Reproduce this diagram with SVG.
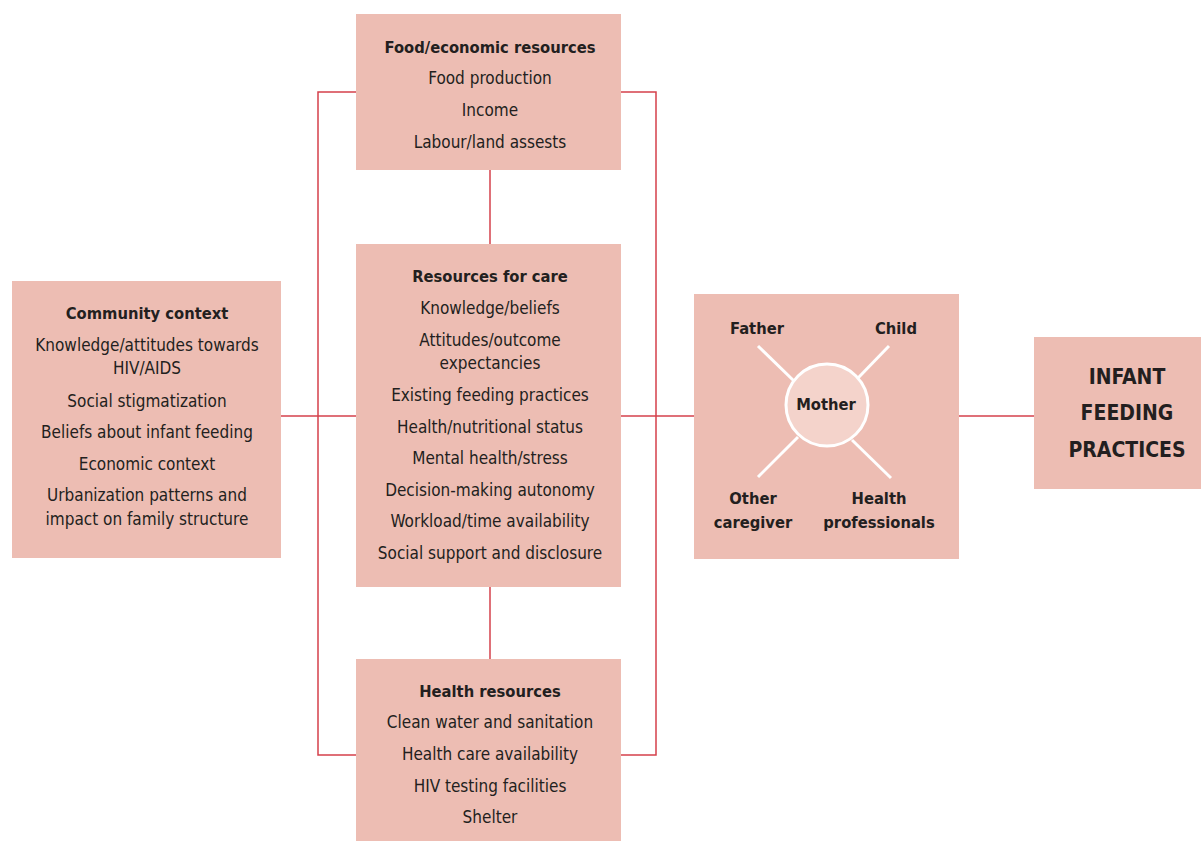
<svg xmlns="http://www.w3.org/2000/svg" width="1201" height="842" viewBox="0 0 1201 842">
<style>
.box{fill:#edbdb3}
.t{font-family:"DejaVu Sans Condensed","Liberation Sans",sans-serif;font-stretch:condensed;font-size:17px;fill:#231f20;text-anchor:middle;dominant-baseline:central}
.b{font-weight:bold;font-size:16.4px}
.big{font-weight:bold;font-size:21px}
.c{stroke:#d5404b;stroke-width:1.5;fill:none}
.w{stroke:#ffffff;stroke-width:3;fill:none}
</style>
<rect width="1201" height="842" fill="#ffffff"/>
<g id="connectors">
<polyline class="c" points="356,92 318,92 318,755 356,755"/>
<polyline class="c" points="621,92 656,92 656,755 621,755"/>
<line class="c" x1="490" y1="170" x2="490" y2="244"/>
<line class="c" x1="490" y1="587" x2="490" y2="659"/>
<line class="c" x1="281" y1="416" x2="356" y2="416"/>
<line class="c" x1="621" y1="416" x2="694" y2="416"/>
<line class="c" x1="959" y1="416" x2="1034" y2="416"/>
</g>
<g id="food">
<rect class="box" x="356" y="14" width="265" height="156"/>
<text class="t b" x="490" y="47">Food/economic resources</text>
<text class="t" x="490" y="78">Food production</text>
<text class="t" x="490" y="110">Income</text>
<text class="t" x="490" y="142">Labour/land assests</text>
</g>
<g id="care">
<rect class="box" x="356" y="244" width="265" height="343"/>
<text class="t b" x="490" y="276">Resources for care</text>
<text class="t" x="490" y="308">Knowledge/beliefs</text>
<text class="t" x="490" y="340">Attitudes/outcome</text>
<text class="t" x="490" y="363">expectancies</text>
<text class="t" x="490" y="395">Existing feeding practices</text>
<text class="t" x="490" y="427">Health/nutritional status</text>
<text class="t" x="490" y="458">Mental health/stress</text>
<text class="t" x="490" y="490">Decision-making autonomy</text>
<text class="t" x="490" y="521">Workload/time availability</text>
<text class="t" x="490" y="553">Social support and disclosure</text>
</g>
<g id="health">
<rect class="box" x="356" y="659" width="265" height="182"/>
<text class="t b" x="490" y="691">Health resources</text>
<text class="t" x="490" y="722">Clean water and sanitation</text>
<text class="t" x="490" y="754">Health care availability</text>
<text class="t" x="490" y="786">HIV testing facilities</text>
<text class="t" x="490" y="817">Shelter</text>
</g>
<g id="community">
<rect class="box" x="12" y="281" width="269" height="277"/>
<text class="t b" x="147" y="313">Community context</text>
<text class="t" x="147" y="345">Knowledge/attitudes towards</text>
<text class="t" x="147" y="368">HIV/AIDS</text>
<text class="t" x="147" y="401">Social stigmatization</text>
<text class="t" x="147" y="432">Beliefs about infant feeding</text>
<text class="t" x="147" y="464">Economic context</text>
<text class="t" x="147" y="495">Urbanization patterns and</text>
<text class="t" x="147" y="519">impact on family structure</text>
</g>
<g id="household">
<rect class="box" x="694" y="294" width="265" height="265"/>
<line class="w" x1="758" y1="346" x2="794" y2="381"/>
<line class="w" x1="889" y1="346" x2="858" y2="378"/>
<line class="w" x1="758" y1="477" x2="798" y2="437"/>
<line class="w" x1="891" y1="478" x2="852" y2="440"/>
<circle cx="827" cy="405" r="41" fill="#f4d3cb" stroke="#ffffff" stroke-width="3"/>
<text class="t b" x="757" y="328">Father</text>
<text class="t b" x="896" y="328">Child</text>
<text class="t b" x="826" y="404">Mother</text>
<text class="t b" x="753" y="498">Other</text>
<text class="t b" x="753" y="522">caregiver</text>
<text class="t b" x="879" y="498">Health</text>
<text class="t b" x="879" y="522">professionals</text>
</g>
<g id="infant">
<rect class="box" x="1034" y="337" width="167" height="152"/>
<text class="t big" x="1127" y="377">INFANT</text>
<text class="t big" x="1127" y="413">FEEDING</text>
<text class="t big" x="1127" y="450">PRACTICES</text>
</g>
</svg>
